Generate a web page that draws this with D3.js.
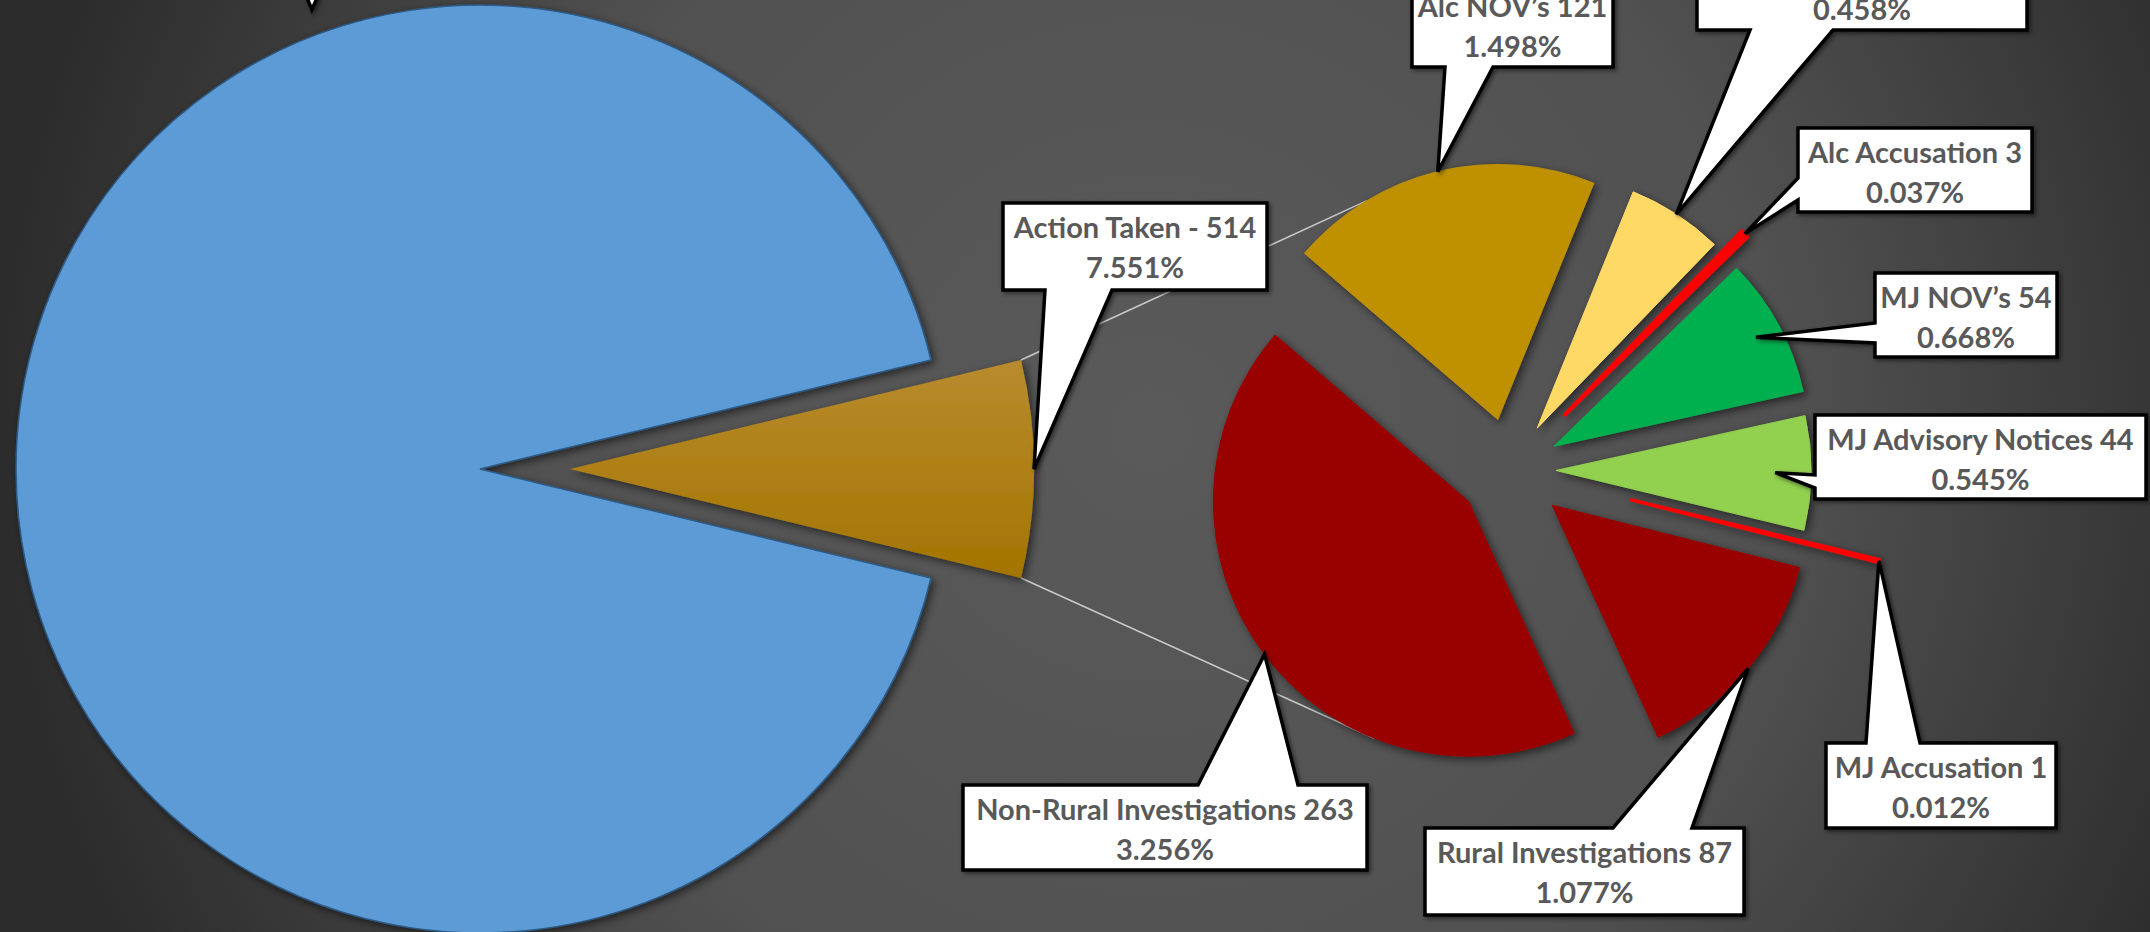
<!DOCTYPE html>
<html>
<head>
<meta charset="utf-8">
<script src="https://cdn.jsdelivr.net/npm/d3@7"></script>
<style>
  html, body { margin: 0; padding: 0; overflow: hidden; background: #3a3a3a; }
  text { font-family: Lato, "Open Sans", sans-serif; font-weight: bold; }
</style>
</head>
<body>
<script>
// ---- data ----
// first pie: the blue slice's label is cut off above the picture
var mainNames = ["Action Taken - 514", ""];
var mainPct = [7.551, 92.449];
var mainPctText = ["7.551%", ""];

// second pie (breakdown of Action Taken)
var subNames = ["Alc NOV\u2019s 121", "", "Alc Accusation 3", "MJ NOV\u2019s 54",
  "MJ Advisory Notices 44", "MJ Accusation 1", "Rural Investigations 87",
  "Non-Rural Investigations 263"];
var subCounts = [121, 37, 3, 54, 44, 1, 87, 263];
var subPctText = ["1.498%", "0.458%", "0.037%", "0.668%", "0.545%", "0.012%", "1.077%", "3.256%"];

// ---- layout ----
var width = 2150, height = 932;
var deg = Math.PI / 180;

var mainCenter = [480, 469], mainR = 464, mainExplode = [90, 0];
var subCenter = [1510, 470], subR = 255;
var subExplode = [52, 50, 78, 50, 46, 125, 55, 52];
var mainColors = ["url(#goldGrad)", "#5b9bd5"];
var subColors = ["#bf9000", "#ffd966", "#ff0000", "#00b050", "#92d050", "#ff0000", "#990000", "#990000"];
var subStroke = [1, 1, 4, 1, 1, 3.5, 1, 1];
var fontSize = 29;

// callout boxes: [x, y, w, h], side the pointer leaves from, pointer base, tip (fraction along slice, radius factor)
var mainCallouts = [
  { box: [1003, 203, 264, 87], side: "bottom", base: [1045, 1112], tip: [0.5, 1.0] },
  { box: [160, -135, 310, 85], side: "bottom", base: [288, 338], tip: [0.71, 1.054] }
];
var subCallouts = [
  { box: [1412, -18, 201, 85], side: "bottom", base: [1445, 1493], tip: [0.5, 1.0] },
  { box: [1697, -55, 330, 85], side: "bottom", base: [1750, 1833], tip: [0.5, 1.0] },
  { box: [1798, 128, 234, 84], side: "left", base: [178, 200], tip: [0.5, 1.0] },
  { box: [1875, 273, 182, 84], side: "left", base: [323, 343], tip: [0.5, 0.9] },
  { box: [1815, 415, 331, 84], side: "left", base: [475, 488], tip: [0.5, 0.86] },
  { box: [1826, 743, 230, 85], side: "top", base: [1866, 1920], tip: [0.5, 1.0] },
  { box: [1425, 828, 319, 87], side: "top", base: [1613, 1692], tip: [0.5, 1.0] },
  { box: [963, 785, 404, 85], side: "top", base: [1198, 1298], tip: [0.5, 1.0] }
];

var svg = d3.select("body").append("svg")
  .attr("width", width)
  .attr("height", height);

var defs = svg.append("defs");
var bg = defs.append("radialGradient").attr("id", "bgGrad")
  .attr("gradientUnits", "userSpaceOnUse")
  .attr("cx", 1150).attr("cy", 430).attr("r", 1150);
bg.append("stop").attr("offset", "0").attr("stop-color", "#5a5a5a");
bg.append("stop").attr("offset", "0.55").attr("stop-color", "#515151");
bg.append("stop").attr("offset", "1").attr("stop-color", "#2c2c2c");

var gold = defs.append("linearGradient").attr("id", "goldGrad")
  .attr("x1", 0).attr("y1", 0).attr("x2", 0).attr("y2", 1);
gold.append("stop").attr("offset", "0").attr("stop-color", "#b98b2e");
gold.append("stop").attr("offset", "1").attr("stop-color", "#a37500");

var shadow = defs.append("filter").attr("id", "shadow")
  .attr("x", "-20%").attr("y", "-20%").attr("width", "140%").attr("height", "140%");
shadow.append("feDropShadow").attr("dx", 3).attr("dy", 3).attr("stdDeviation", 4)
  .attr("flood-color", "#000").attr("flood-opacity", 0.55);

var boxShadow = defs.append("filter").attr("id", "boxShadow")
  .attr("x", "-20%").attr("y", "-20%").attr("width", "140%").attr("height", "140%");
boxShadow.append("feDropShadow").attr("dx", 2).attr("dy", 2).attr("stdDeviation", 2)
  .attr("flood-color", "#000").attr("flood-opacity", 0.5);

svg.append("rect").attr("width", width).attr("height", height).attr("fill", "url(#bgGrad)");

// ---- pies ----
var mainPie = d3.pie().sort(null)
  .startAngle((90 - mainPct[0] * 3.6 / 2) * deg)
  .endAngle((450 - mainPct[0] * 3.6 / 2) * deg);
var mainArcs = mainPie(mainPct);

var subPie = d3.pie().sort(null)
  .startAngle(-49.3 * deg)
  .endAngle(310.7 * deg);
var subArcs = subPie(subCounts);

function polar(c, r, a) {
  return [c[0] + r * Math.sin(a), c[1] - r * Math.cos(a)];
}
function subSliceCenter(d, i) {
  var mid = (d.startAngle + d.endAngle) / 2;
  return polar(subCenter, subExplode[i], mid);
}
function mainSliceCenter(d, i) {
  return [mainCenter[0] + mainExplode[i], mainCenter[1]];
}

var mainArc = d3.arc().innerRadius(0).outerRadius(mainR);
var subArc = d3.arc().innerRadius(0).outerRadius(subR);

// connector lines between the exploded slice and the second pie
var actionD = mainArcs[0];
var goldC = mainSliceCenter(actionD, 0);
var topEnd = polar(subSliceCenter(subArcs[0], 0), subR, 329 * deg);
var botEnd = polar(subSliceCenter(subArcs[7], 7), subR, 201.7 * deg);
var connectors = [
  [polar(goldC, mainR, actionD.startAngle), topEnd],
  [polar(goldC, mainR, actionD.endAngle), botEnd]
];
svg.append("g").selectAll("line")
  .data(connectors)
  .join("line")
  .attr("x1", d => d[0][0]).attr("y1", d => d[0][1])
  .attr("x2", d => d[1][0]).attr("y2", d => d[1][1])
  .attr("stroke", "#c8c8c8")
  .attr("stroke-width", 1.6);

svg.append("g")
  .selectAll("path")
  .data(mainArcs)
  .join("path")
  .attr("transform", (d, i) => "translate(" + mainSliceCenter(d, i) + ")")
  .attr("d", mainArc)
  .attr("fill", (d, i) => mainColors[i])
  .attr("stroke", (d, i) => i === 1 ? "#2d5a86" : "none")
  .attr("stroke-width", 1.5)
  .attr("filter", "url(#shadow)");

svg.append("g")
  .selectAll("path")
  .data(subArcs)
  .join("path")
  .attr("transform", (d, i) => "translate(" + subSliceCenter(d, i) + ")")
  .attr("d", subArc)
  .attr("fill", (d, i) => subColors[i])
  .attr("stroke", (d, i) => subColors[i])
  .attr("stroke-width", (d, i) => subStroke[i])
  .attr("stroke-linejoin", "round")
  .attr("filter", "url(#shadow)");

// ---- callouts ----
function calloutPath(c, tip) {
  var x = c.box[0], y = c.box[1], w = c.box[2], h = c.box[3];
  var a = c.base[0], b = c.base[1];
  var p = d3.path();
  if (c.side === "bottom") {
    p.moveTo(x, y); p.lineTo(x + w, y); p.lineTo(x + w, y + h);
    p.lineTo(b, y + h); p.lineTo(tip[0], tip[1]); p.lineTo(a, y + h);
    p.lineTo(x, y + h);
  } else if (c.side === "top") {
    p.moveTo(x, y); p.lineTo(a, y); p.lineTo(tip[0], tip[1]); p.lineTo(b, y);
    p.lineTo(x + w, y); p.lineTo(x + w, y + h); p.lineTo(x, y + h);
  } else {
    p.moveTo(x, y); p.lineTo(x + w, y); p.lineTo(x + w, y + h); p.lineTo(x, y + h);
    p.lineTo(x, b); p.lineTo(tip[0], tip[1]); p.lineTo(x, a);
  }
  p.closePath();
  return p.toString();
}

function tipPoint(d, center, r, spec) {
  var a = d.startAngle + (d.endAngle - d.startAngle) * spec[0];
  return polar(center, r * spec[1], a);
}

var labels = [];
mainArcs.forEach(function (d, i) {
  labels.push({ c: mainCallouts[i], tip: tipPoint(d, mainSliceCenter(d, i), mainR, mainCallouts[i].tip),
    l1: mainNames[i], l2: mainPctText[i] });
});
subArcs.forEach(function (d, i) {
  labels.push({ c: subCallouts[i], tip: tipPoint(d, subSliceCenter(d, i), subR, subCallouts[i].tip),
    l1: subNames[i], l2: subPctText[i] });
});

var callouts = svg.append("g").selectAll("g")
  .data(labels)
  .join("g");

callouts.append("path")
  .attr("d", d => calloutPath(d.c, d.tip))
  .attr("fill", "#fff")
  .attr("stroke", "#000")
  .attr("stroke-width", 3.5)
  .attr("stroke-linejoin", "miter")
  .attr("filter", "url(#boxShadow)");

callouts.append("text")
  .attr("x", d => d.c.box[0] + d.c.box[2] / 2)
  .attr("y", d => d.c.box[1] + 35)
  .attr("text-anchor", "middle")
  .attr("font-size", fontSize)
  .attr("fill", "#595959")
  .text(d => d.l1);

callouts.append("text")
  .attr("x", d => d.c.box[0] + d.c.box[2] / 2)
  .attr("y", d => d.c.box[1] + 75)
  .attr("text-anchor", "middle")
  .attr("font-size", fontSize)
  .attr("fill", "#595959")
  .text(d => d.l2);
</script>
</body>
</html>
